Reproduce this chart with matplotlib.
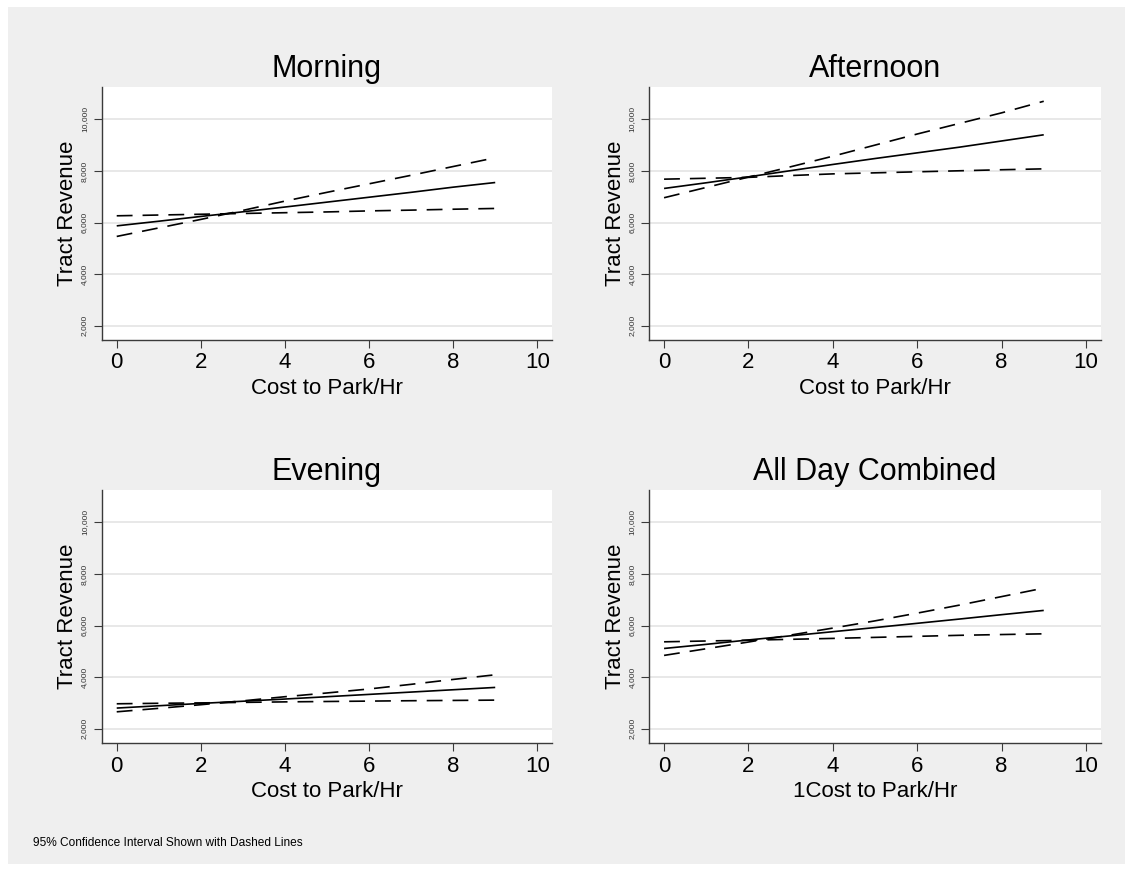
import matplotlib
matplotlib.use('Agg')
import matplotlib.pyplot as plt
from matplotlib.patches import Rectangle

plt.rcParams['font.family'] = ['Liberation Sans', 'DejaVu Sans']

# ---------------- data ----------------
cost = [0, 1, 2, 3, 4, 5, 6, 7, 8, 9]

panel_titles = ['Morning', 'Afternoon', 'Evening', 'All Day Combined']
x_labels = ['Cost to Park/Hr', 'Cost to Park/Hr', 'Cost to Park/Hr', '1Cost to Park/Hr']
y_label = 'Tract Revenue'

morning_fit = [5870, 6050, 6235, 6415, 6600, 6790, 6980, 7170, 7370, 7550]
morning_ci_a = [6260, 6290, 6320, 6350, 6380, 6410, 6450, 6480, 6515, 6545]
morning_ci_b = [5460, 5790, 6120, 6470, 6830, 7170, 7500, 7830, 8170, 8510]

afternoon_fit = [7320, 7540, 7770, 8010, 8250, 8480, 8700, 8920, 9160, 9400]
afternoon_ci_a = [7680, 7715, 7750, 7820, 7885, 7925, 7965, 8005, 8045, 8080]
afternoon_ci_b = [6960, 7360, 7760, 8160, 8570, 9000, 9430, 9840, 10250, 10700]

evening_fit = [2800, 2890, 2980, 3065, 3150, 3240, 3330, 3420, 3510, 3600]
evening_ci_a = [2966, 2985, 3000, 3020, 3040, 3055, 3070, 3085, 3096, 3108]
evening_ci_b = [2655, 2790, 2930, 3080, 3240, 3385, 3540, 3720, 3910, 4090]

allday_fit = [5110, 5270, 5440, 5600, 5760, 5920, 6085, 6250, 6420, 6585]
allday_ci_a = [5368, 5400, 5430, 5465, 5500, 5540, 5580, 5620, 5650, 5678]
allday_ci_b = [4841, 5100, 5360, 5630, 5900, 6180, 6480, 6790, 7120, 7450]

y_ticks = [2000, 4000, 6000, 8000, 10000]
y_tick_labels = ['2,000', '4,000', '6,000', '8,000', '10,000']
x_ticks = [0, 2, 4, 6, 8, 10]
x_tick_labels = ['0', '2', '4', '6', '8', '10']
footnote = '95% Confidence Interval Shown with Dashed Lines'

series = [
    (morning_fit, morning_ci_a, morning_ci_b),
    (afternoon_fit, afternoon_ci_a, afternoon_ci_b),
    (evening_fit, evening_ci_a, evening_ci_b),
    (allday_fit, allday_ci_a, allday_ci_b),
]

# ---------------- layout ----------------
W, H = 1133, 871
fig = plt.figure(figsize=(W / 100, H / 100), dpi=100, facecolor='white')
bg = Rectangle((8 / W, 7 / H), 1117 / W, 857 / H,
               transform=fig.transFigure, facecolor='#efefef',
               edgecolor='none', zorder=-10)
fig.add_artist(bg)

positions = [
    [102 / W, (H - 340) / H, 450 / W, 253.3 / H],
    [649.3 / W, (H - 340) / H, 451.4 / W, 253.3 / H],
    [102 / W, (H - 743) / H, 450 / W, 253.3 / H],
    [649.3 / W, (H - 743) / H, 451.4 / W, 253.3 / H],
]

axis_col = '#3a3a3a'
for pos, title, xlab, (fit, ci_a, ci_b) in zip(positions, panel_titles, x_labels, series):
    ax = fig.add_axes(pos)
    ax.set_zorder(1)
    ax.set_facecolor('white')
    ax.set_xlim(-0.35, 10.35)
    ax.set_ylim(1446, 11264)
    ax.set_axisbelow(True)
    ax.yaxis.grid(True, color='#e6e6e6', lw=1.3)
    ax.xaxis.grid(False)
    for s in ['top', 'right']:
        ax.spines[s].set_visible(False)
    for s in ['left', 'bottom']:
        ax.spines[s].set_color(axis_col)
        ax.spines[s].set_linewidth(1.0)

    ax.plot(cost, fit, color='black', lw=1.2, solid_capstyle='butt')
    ax.plot(cost, ci_a, color='black', lw=1.2, dashes=(9.5, 6))
    ax.plot(cost, ci_b, color='black', lw=1.2, dashes=(9.5, 6))

    ax.set_yticks(y_ticks)
    ax.set_yticklabels(y_tick_labels, rotation=90, va='center', fontsize=6, color='#333333')
    ax.set_xticks(x_ticks)
    ax.set_xticklabels(x_tick_labels, fontsize=16)
    ax.tick_params(axis='y', direction='out', length=6, width=0.8, color=axis_col, pad=4)
    ax.tick_params(axis='x', direction='out', length=6, width=0.8, color=axis_col, pad=3)

    ax.set_title(title, fontsize=22, pad=7)
    ax.set_xlabel(xlab, fontsize=16, labelpad=3)
    ax.set_ylabel(y_label, fontsize=16, labelpad=2)

fig.text(32.7 / W, (H - 842.7) / H, footnote, fontsize=8.6, ha='left', va='center')

fig.savefig('out.png', dpi=100, facecolor='white')
